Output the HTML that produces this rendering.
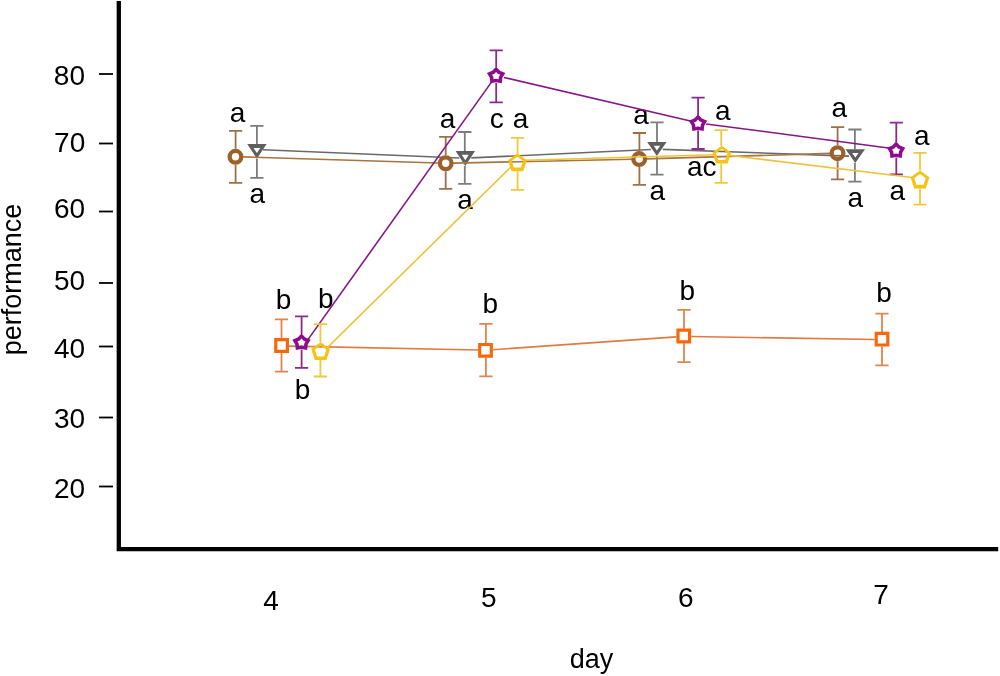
<!DOCTYPE html>
<html><head><meta charset="utf-8"><title>performance by day</title>
<style>html,body{margin:0;padding:0;background:#fff;overflow:hidden}svg{display:block}</style>
</head><body>
<svg width="1000" height="676" viewBox="0 0 1000 676">
<rect width="1000" height="676" fill="#fff"/>
<path d="M118.8,1 V549.2 H998.2" fill="none" stroke="#000" stroke-width="4.3" stroke-linejoin="miter"/>
<line x1="99" x2="113" y1="74" y2="74" stroke="#000" stroke-width="1.8"/>
<line x1="99" x2="113" y1="143.5" y2="143.5" stroke="#000" stroke-width="1.8"/>
<line x1="99" x2="113" y1="211.5" y2="211.5" stroke="#000" stroke-width="1.8"/>
<line x1="99" x2="113" y1="283" y2="283" stroke="#000" stroke-width="1.8"/>
<line x1="99" x2="113" y1="346.5" y2="346.5" stroke="#000" stroke-width="1.8"/>
<line x1="99" x2="113" y1="417.5" y2="417.5" stroke="#000" stroke-width="1.8"/>
<line x1="99" x2="113" y1="486.5" y2="486.5" stroke="#000" stroke-width="1.8"/>
<g font-family="Liberation Sans, Arial, sans-serif" font-size="28" fill="#000" text-anchor="middle">
<text x="69.4" y="85.4">80</text>
<text x="69.7" y="152.4">70</text>
<text x="69.5" y="217.5">60</text>
<text x="69.5" y="290.3">50</text>
<text x="69.5" y="358.4">40</text>
<text x="69.5" y="428.1">30</text>
<text x="69.5" y="497.6">20</text>
<text x="271.1" y="609.9">4</text>
<text x="488.8" y="606.6">5</text>
<text x="685.9" y="606.6">6</text>
<text x="881" y="604.2">7</text>
</g>
<text x="591.6" y="668" font-family="Liberation Sans, Arial, sans-serif" font-size="27" text-anchor="middle">day</text>
<text transform="translate(21,279.4) rotate(-90)" x="0" y="0" font-family="Liberation Sans, Arial, sans-serif" font-size="27" text-anchor="middle">performance</text>
<g font-family="Liberation Sans, Arial, sans-serif" font-size="28" fill="#000" text-anchor="middle">
<text x="237.6" y="121.8">a</text>
<text x="257.4" y="203">a</text>
<text x="283.6" y="309.4">b</text>
<text x="325.8" y="307.5">b</text>
<text x="302.5" y="399">b</text>
<text x="447.5" y="127.5">a</text>
<text x="496.7" y="127.5">c</text>
<text x="520.6" y="128">a</text>
<text x="465" y="209">a</text>
<text x="490.3" y="312.5">b</text>
<text x="641.1" y="123.5">a</text>
<text x="657.4" y="200">a</text>
<text x="722.7" y="120.4">a</text>
<text x="701.8" y="175.7">ac</text>
<text x="687.3" y="300.1">b</text>
<text x="839.3" y="117.3">a</text>
<text x="855.4" y="207.3">a</text>
<text x="921.8" y="144.8">a</text>
<text x="897.2" y="200.3">a</text>
<text x="884.1" y="301.7">b</text>
</g>
<line x1="262.99" y1="149.75" x2="459.31" y2="157.95" stroke="#6a6a6a" stroke-width="1.6"/>
<line x1="471.29" y1="157.92" x2="650.81" y2="149.48" stroke="#6a6a6a" stroke-width="1.6"/>
<line x1="662.80" y1="149.41" x2="849.00" y2="156.09" stroke="#6a6a6a" stroke-width="1.6"/>
<path d="M256.90,144.10 V125.9 M256.90,158.70 V177.9 M250.30,125.9 H263.50 M250.30,177.9 H263.50" fill="none" stroke="#7c7c7c" stroke-width="1.8"/>
<path d="M464.80,150.90 V132 M464.80,166.00 V183.9 M458.20,132 H471.40 M458.20,183.9 H471.40" fill="none" stroke="#7c7c7c" stroke-width="1.8"/>
<path d="M657.00,141.90 V122.4 M657.00,155.90 V174.7 M650.40,122.4 H663.60 M650.40,174.7 H663.60" fill="none" stroke="#7c7c7c" stroke-width="1.8"/>
<path d="M854.90,149.20 V129.5 M854.90,163.00 V181.7 M848.30,129.5 H861.50 M848.30,181.7 H861.50" fill="none" stroke="#7c7c7c" stroke-width="1.8"/>
<path d="M247.20,144.10 L266.60,144.10 L256.90,158.70 Z M256.90,153.10 L260.29,148.00 L253.51,148.00 Z" fill="#5f5f5f" fill-rule="evenodd"/>
<path d="M455.60,150.90 L475.00,150.90 L465.30,166.00 Z M465.30,160.26 L468.81,154.80 L461.79,154.80 Z" fill="#5f5f5f" fill-rule="evenodd"/>
<path d="M647.20,141.90 L666.60,141.90 L656.90,155.90 Z M656.90,150.46 L660.13,145.80 L653.67,145.80 Z" fill="#5f5f5f" fill-rule="evenodd"/>
<path d="M845.60,149.20 L865.00,149.20 L855.30,163.00 Z M855.30,157.61 L858.47,153.10 L852.13,153.10 Z" fill="#5f5f5f" fill-rule="evenodd"/>
<line x1="243.30" y1="156.84" x2="438.20" y2="163.06" stroke="#a8743f" stroke-width="1.6"/>
<line x1="453.20" y1="163.14" x2="631.70" y2="159.26" stroke="#a8743f" stroke-width="1.6"/>
<line x1="646.70" y1="158.88" x2="830.00" y2="153.42" stroke="#a8743f" stroke-width="1.6"/>
<path d="M235.60,148.80 V130.9 M235.60,164.80 V182.8 M229.00,130.9 H242.20 M229.00,182.8 H242.20" fill="none" stroke="#9d7048" stroke-width="1.8"/>
<path d="M445.70,155.30 V136.9 M445.70,171.30 V188.8 M439.10,136.9 H452.30 M439.10,188.8 H452.30" fill="none" stroke="#9d7048" stroke-width="1.8"/>
<path d="M639.40,151.10 V133 M639.40,167.10 V184.9 M632.80,133 H646.00 M632.80,184.9 H646.00" fill="none" stroke="#9d7048" stroke-width="1.8"/>
<path d="M837.60,145.20 V127.2 M837.60,161.20 V179.3 M831.00,127.2 H844.20 M831.00,179.3 H844.20" fill="none" stroke="#9d7048" stroke-width="1.8"/>
<circle cx="235.5" cy="156.8" r="5.85" fill="none" stroke="#9b6128" stroke-width="4.3"/>
<circle cx="445.7" cy="163.3" r="5.85" fill="none" stroke="#9b6128" stroke-width="4.3"/>
<circle cx="639.2" cy="159.1" r="5.85" fill="none" stroke="#9b6128" stroke-width="4.3"/>
<circle cx="837.5" cy="153.2" r="5.85" fill="none" stroke="#9b6128" stroke-width="4.3"/>
<line x1="289.10" y1="346.15" x2="478.10" y2="350.05" stroke="#e07a3e" stroke-width="1.6"/>
<line x1="493.08" y1="349.68" x2="676.32" y2="336.92" stroke="#e07a3e" stroke-width="1.6"/>
<line x1="691.30" y1="336.52" x2="874.50" y2="339.48" stroke="#e07a3e" stroke-width="1.6"/>
<path d="M281.50,338.20 V319.4 M281.50,352.80 V371.7 M274.90,319.4 H288.10 M274.90,371.7 H288.10" fill="none" stroke="#e2844e" stroke-width="1.8"/>
<path d="M485.90,343.00 V323.9 M485.90,357.60 V376.3 M479.30,323.9 H492.50 M479.30,376.3 H492.50" fill="none" stroke="#e2844e" stroke-width="1.8"/>
<path d="M684.00,328.70 V309.8 M684.00,343.30 V362.2 M677.40,309.8 H690.60 M677.40,362.2 H690.60" fill="none" stroke="#e2844e" stroke-width="1.8"/>
<path d="M882.00,331.90 V313.6 M882.00,346.50 V365.4 M875.40,313.6 H888.60 M875.40,365.4 H888.60" fill="none" stroke="#e2844e" stroke-width="1.8"/>
<path d="M274.20,338.10 L289.00,338.10 L289.00,352.90 L274.20,352.90 Z M277.40,349.70 L285.80,349.70 L285.80,341.30 L277.40,341.30 Z" fill="#f8680a" fill-rule="evenodd"/>
<path d="M478.10,342.90 L492.90,342.90 L492.90,357.70 L478.10,357.70 Z M481.30,354.50 L489.70,354.50 L489.70,346.10 L481.30,346.10 Z" fill="#f8680a" fill-rule="evenodd"/>
<path d="M676.40,328.60 L691.20,328.60 L691.20,343.40 L676.40,343.40 Z M679.60,340.20 L688.00,340.20 L688.00,331.80 L679.60,331.80 Z" fill="#f8680a" fill-rule="evenodd"/>
<path d="M874.60,331.80 L889.40,331.80 L889.40,346.60 L874.60,346.60 Z M877.80,343.40 L886.20,343.40 L886.20,335.00 L877.80,335.00 Z" fill="#f8680a" fill-rule="evenodd"/>
<line x1="306.14" y1="342.09" x2="491.46" y2="82.11" stroke="#861686" stroke-width="1.6"/>
<line x1="503.89" y1="77.42" x2="690.41" y2="121.08" stroke="#861686" stroke-width="1.6"/>
<line x1="706.13" y1="123.94" x2="888.37" y2="147.96" stroke="#861686" stroke-width="1.6"/>
<path d="M301.60,334.00 V316.3 M301.60,349.60 V367.9 M295.00,316.3 H308.20 M295.00,367.9 H308.20" fill="none" stroke="#8a2a8a" stroke-width="1.8"/>
<path d="M496.20,67.30 V50.4 M496.20,82.90 V102.4 M489.60,50.4 H502.80 M489.60,102.4 H502.80" fill="none" stroke="#8a2a8a" stroke-width="1.8"/>
<path d="M698.10,115.00 V97.7 M698.10,130.60 V149 M691.50,97.7 H704.70 M691.50,149 H704.70" fill="none" stroke="#8a2a8a" stroke-width="1.8"/>
<path d="M896.30,142.00 V122.6 M896.30,157.60 V174.4 M889.70,122.6 H902.90 M889.70,174.4 H902.90" fill="none" stroke="#8a2a8a" stroke-width="1.8"/>
<path d="M301.50,333.40 L305.39,337.50 L310.69,339.76 L307.79,344.55 L307.18,350.04 L301.50,348.90 L295.82,350.04 L295.21,344.55 L292.31,339.76 L297.61,337.50 Z M299.77,340.43 L297.41,341.43 L298.70,343.57 L298.97,346.02 L301.50,345.50 L304.03,346.02 L304.30,343.57 L305.59,341.43 L303.23,340.43 L301.50,338.60 Z" fill="#8e0b8e" fill-rule="evenodd"/>
<path d="M496.10,66.70 L499.99,70.80 L505.29,73.06 L502.39,77.85 L501.78,83.34 L496.10,82.20 L490.42,83.34 L489.81,77.85 L486.91,73.06 L492.21,70.80 Z M494.37,73.73 L492.01,74.73 L493.30,76.87 L493.57,79.32 L496.10,78.80 L498.63,79.32 L498.90,76.87 L500.19,74.73 L497.83,73.73 L496.10,71.90 Z" fill="#8e0b8e" fill-rule="evenodd"/>
<path d="M698.00,114.40 L701.89,118.50 L707.19,120.76 L704.29,125.55 L703.68,131.04 L698.00,129.90 L692.32,131.04 L691.71,125.55 L688.81,120.76 L694.11,118.50 Z M696.27,121.43 L693.91,122.43 L695.20,124.57 L695.47,127.02 L698.00,126.50 L700.53,127.02 L700.80,124.57 L702.09,122.43 L699.73,121.43 L698.00,119.60 Z" fill="#8e0b8e" fill-rule="evenodd"/>
<path d="M896.10,141.40 L899.99,145.50 L905.29,147.76 L902.39,152.55 L901.78,158.04 L896.10,156.90 L890.42,158.04 L889.81,152.55 L886.91,147.76 L892.21,145.50 Z M894.37,148.43 L892.01,149.43 L893.30,151.57 L893.57,154.02 L896.10,153.50 L898.63,154.02 L898.90,151.57 L900.19,149.43 L897.83,148.43 L896.10,146.60 Z" fill="#8e0b8e" fill-rule="evenodd"/>
<line x1="326.30" y1="348.59" x2="511.70" y2="166.11" stroke="#eec23a" stroke-width="1.6"/>
<line x1="525.40" y1="160.27" x2="714.00" y2="154.73" stroke="#eec23a" stroke-width="1.6"/>
<line x1="729.94" y1="155.46" x2="912.06" y2="177.54" stroke="#eec23a" stroke-width="1.6"/>
<path d="M320.40,342.30 V324.1 M320.40,360.10 V376.5 M313.80,324.1 H327.00 M313.80,376.5 H327.00" fill="none" stroke="#f3c83a" stroke-width="1.8"/>
<path d="M517.60,153.40 V137.8 M517.60,171.20 V189.9 M511.00,137.8 H524.20 M511.00,189.9 H524.20" fill="none" stroke="#f3c83a" stroke-width="1.8"/>
<path d="M721.20,145.80 V130.2 M721.20,163.60 V182.8 M714.60,130.2 H727.80 M714.60,182.8 H727.80" fill="none" stroke="#f3c83a" stroke-width="1.8"/>
<path d="M920.00,170.60 V152.9 M920.00,188.40 V204.7 M913.40,152.9 H926.60 M913.40,204.7 H926.60" fill="none" stroke="#f3c83a" stroke-width="1.8"/>
<path d="M320.60,342.20 L330.02,349.04 L326.42,360.11 L314.78,360.11 L311.18,349.04 Z M314.89,349.75 L317.07,356.45 L324.13,356.45 L326.31,349.75 L320.60,345.60 Z" fill="#f5c216" fill-rule="evenodd"/>
<path d="M517.40,153.30 L526.82,160.14 L523.22,171.21 L511.58,171.21 L507.98,160.14 Z M511.69,160.85 L513.87,167.55 L520.93,167.55 L523.11,160.85 L517.40,156.70 Z" fill="#f5c216" fill-rule="evenodd"/>
<path d="M721.80,145.70 L731.22,152.54 L727.62,163.61 L715.98,163.61 L712.38,152.54 Z M716.09,153.25 L718.27,159.95 L725.33,159.95 L727.51,153.25 L721.80,149.10 Z" fill="#f5c216" fill-rule="evenodd"/>
<path d="M920.00,170.50 L929.42,177.34 L925.82,188.41 L914.18,188.41 L910.58,177.34 Z M914.29,178.05 L916.47,184.75 L923.53,184.75 L925.71,178.05 L920.00,173.90 Z" fill="#f5c216" fill-rule="evenodd"/>
</svg>
</body></html>
